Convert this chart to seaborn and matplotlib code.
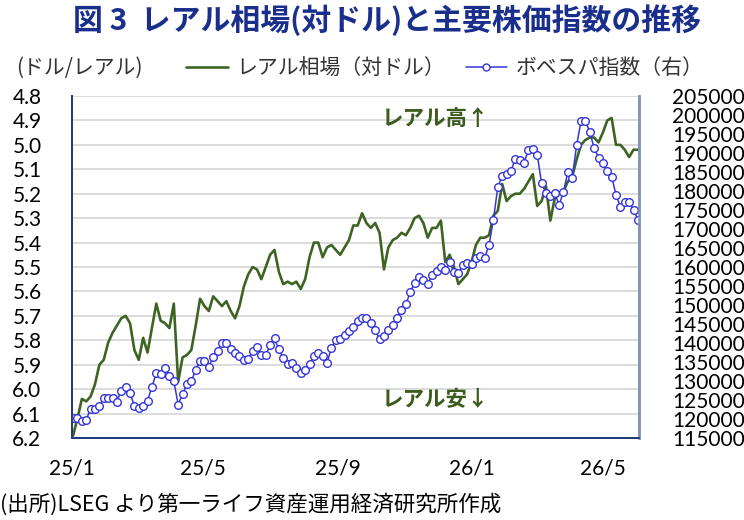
import pandas as pd
import matplotlib.pyplot as plt
import seaborn as sns
from matplotlib.lines import Line2D

# Set the style
sns.set_theme(style="white")
plt.rcParams['font.family'] = ['Noto Sans CJK JP', 'DejaVu Sans']

# Data (every 4 days from 2025-01-02)
dates = pd.date_range('2025-01-02', periods=130, freq='4D')

# BRL per USD (left axis, inverted)
brl = [6.19, 6.12, 6.04, 6.05, 6.03, 5.98, 5.90, 5.88, 5.81, 5.77,
       5.74, 5.71, 5.70, 5.73, 5.84, 5.88, 5.79, 5.85, 5.75, 5.65,
       5.72, 5.73, 5.75, 5.65, 5.97, 5.87, 5.86, 5.84, 5.74, 5.63,
       5.66, 5.68, 5.62, 5.64, 5.66, 5.64, 5.68, 5.71, 5.66, 5.58,
       5.53, 5.50, 5.51, 5.55, 5.50, 5.45, 5.43, 5.52, 5.57, 5.56,
       5.57, 5.56, 5.59, 5.55, 5.46, 5.40, 5.40, 5.46, 5.42, 5.41,
       5.43, 5.45, 5.42, 5.39, 5.33, 5.33, 5.28, 5.32, 5.34, 5.32,
       5.36, 5.51, 5.42, 5.39, 5.38, 5.36, 5.37, 5.34, 5.30, 5.29,
       5.32, 5.38, 5.34, 5.34, 5.31, 5.48, 5.45, 5.50, 5.57, 5.55,
       5.53, 5.48, 5.41, 5.38, 5.38, 5.37, 5.29, 5.27, 5.16, 5.23,
       5.21, 5.20, 5.20, 5.18, 5.15, 5.12, 5.25, 5.23, 5.17, 5.31,
       5.22, 5.20, 5.19, 5.15, 5.13, 5.06, 5.00, 4.98, 4.97, 4.97,
       4.99, 4.95, 4.90, 4.89, 5.00, 5.00, 5.02, 5.05, 5.02, 5.02]

# Bovespa index (right axis)
ibov = [120300, 120200, 119500, 119800, 122700, 122600, 123300, 125500, 125500, 125500,
        124600, 127500, 128300, 126800, 123500, 122900, 123400, 124800, 128500, 132000,
        131800, 133400, 131400, 130000, 123800, 126500, 129200, 129900, 133000, 135300,
        135300, 133800, 136300, 138000, 140000, 140000, 138500, 137300, 136700, 135500,
        135800, 138000, 138900, 136800, 136800, 139500, 141200, 138300, 136000, 134600,
        134800, 133500, 132200, 132900, 134500, 136600, 137300, 136500, 134700, 138800,
        140800, 141100, 142200, 143100, 144100, 145700, 146600, 146600, 145200, 143500,
        141000, 141900, 143300, 144800, 146700, 148600, 150200, 153300, 155800, 157500,
        156500, 155500, 158000, 158900, 160000, 159200, 161200, 158600, 158500, 160400,
        161000, 160800, 162300, 163000, 162400, 165800, 172500, 181000, 184000, 184500,
        185200, 188500, 188200, 187500, 190800, 191000, 189600, 182000, 179500, 178800,
        179500, 176300, 179800, 185000, 183500, 192000, 198300, 198500, 195500, 191300,
        188800, 187400, 185200, 183800, 179000, 175800, 177000, 177200, 175000, 172500]

tick_dates = pd.to_datetime(['2025-01-01', '2025-05-01', '2025-09-01', '2026-01-01', '2026-05-01'])
tick_labels = ['25/1', '25/5', '25/9', '26/1', '26/5']
left_ticks = [4.8, 4.9, 5.0, 5.1, 5.2, 5.3, 5.4, 5.5, 5.6, 5.7, 5.8, 5.9, 6.0, 6.1, 6.2]
right_ticks = list(range(115000, 205001, 5000))

df = pd.DataFrame({'date': dates, 'brl': brl, 'ibov': ibov})

green = '#3E6424'
blue = '#3535D8'
navy = '#1F3A7A'
num_font = ['Lato', 'DejaVu Sans']

fig = plt.figure(figsize=(7.44, 5.2), dpi=100)
ax = fig.add_axes([72 / 744, 1 - 438 / 520, 567 / 744, 342 / 520])
ax2 = ax.twinx()

sns.lineplot(data=df, x='date', y='brl', ax=ax, color=green, linewidth=1.9)
sns.lineplot(data=df, x='date', y='ibov', ax=ax2, color=blue, linewidth=1.1,
             marker='o', markersize=5.5, markerfacecolor='white',
             markeredgecolor=blue, markeredgewidth=1.0)

# Axes ranges and ticks
ax.set_xlim(pd.Timestamp('2025-01-01'), pd.Timestamp('2026-06-03'))
ax.set_ylim(6.2, 4.8)
ax.set_yticks(left_ticks)
ax.set_yticklabels([f'{v:.1f}' for v in left_ticks], fontfamily=num_font, fontsize=15)
ax2.set_ylim(115000, 205000)
ax2.set_yticks(right_ticks)
ax2.set_yticklabels([str(v) for v in right_ticks], fontfamily=num_font, fontsize=15)
ax.set_xticks(tick_dates)
ax.set_xticklabels(tick_labels, fontfamily=num_font, fontsize=15)

ax.tick_params(axis='y', length=0, pad=22, colors='black')
ax2.tick_params(axis='y', length=0, pad=24, colors='black')
ax.tick_params(axis='x', direction='in', length=7, width=1, pad=15, colors='black')
ax.tick_params(axis='x', color=navy)

ax.grid(axis='y', color='#D9D9D9', linewidth=1.3)
ax.set_axisbelow(True)
ax.set_xlabel('')
ax.set_ylabel('')
ax2.set_ylabel('')

for a in (ax, ax2):
    a.spines['top'].set_visible(False)
    a.spines['left'].set_color(navy)
    a.spines['bottom'].set_color(navy)
    a.spines['right'].set_color('#8293B0')
    a.spines['left'].set_linewidth(1.3)
    a.spines['bottom'].set_linewidth(1.3)
    a.spines['right'].set_linewidth(1.8)

# Annotations
ax.text(0.546, 0.93, 'レアル高↑', transform=ax.transAxes, color='#3E5B1E',
        fontsize=15.5, fontweight='bold', va='center', ha='left')
ax.text(0.546, 0.111, 'レアル安↓', transform=ax.transAxes, color='#3E5B1E',
        fontsize=15.5, fontweight='bold', va='center', ha='left')

# Title, unit label, legend, source
fig.text(0.52, 1 - 20 / 520, '図 3  レアル相場(対ドル)と主要株価指数の推移',
         ha='center', va='center', fontsize=21.5, fontweight='bold', color='#1A2F8C')
fig.text(16 / 744, 1 - 68 / 520, '(ドル/レアル)', ha='left', va='center',
         fontsize=15, color='#333333')

handles = [Line2D([], [], color=green, linewidth=1.9),
           Line2D([], [], color=blue, linewidth=1.1, marker='o', markersize=5,
                  markerfacecolor='white', markeredgecolor=blue)]
leg = fig.legend(handles, ['レアル相場（対ドル）', 'ボベスパ指数（右）'], ncol=2,
                 loc='center left', bbox_to_anchor=(186 / 744, 1 - 68 / 520),
                 frameon=False, fontsize=15, handlelength=2.0, handletextpad=0.4,
                 columnspacing=1.0, borderaxespad=0, borderpad=0)
for t in leg.get_texts():
    t.set_color('#333333')

fig.text(0.0, 1 - 505 / 520, '(出所)LSEG より第一ライフ資産運用経済研究所作成',
         ha='left', va='center', fontsize=15.5, color='black')

fig.savefig('out.png', dpi=100)
